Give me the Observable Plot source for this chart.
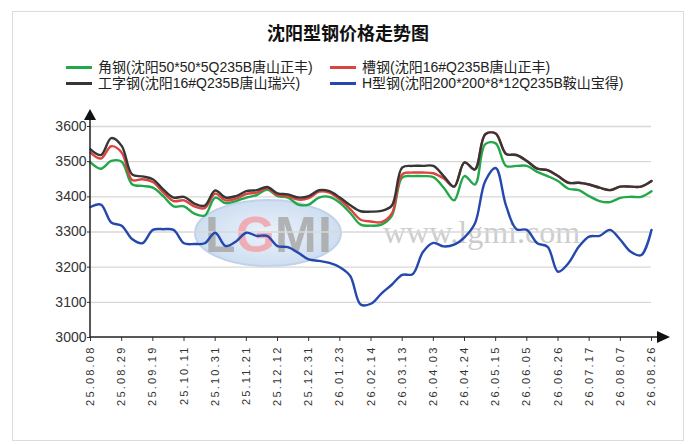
<!DOCTYPE html>
<html>
<head>
<meta charset="utf-8">
<script src="https://cdn.jsdelivr.net/npm/d3@7"></script>
<script src="https://cdn.jsdelivr.net/npm/@observablehq/plot@0.6"></script>
<style>
  body { margin: 0; background: #fff; font-family: "Liberation Sans", "Noto Sans CJK SC", sans-serif; }
  #wrap { position: relative; width: 692px; height: 445px; overflow: hidden; }
  #frame { position: absolute; left: 12px; top: 11px; width: 670px; height: 428px; border: 1px solid #dcdcdc; }
  #title { position: absolute; left: 12px; width: 672px; top: 19px; text-align: center; font-size: 18px;
           line-height: 26px; font-weight: bold; color: #111; font-family: "Noto Sans CJK SC", sans-serif; }
  .leg { position: absolute; font-size: 14px; line-height: 16px; color: #222; white-space: nowrap; }
  .leg i { display: inline-block; width: 26px; height: 2.5px; vertical-align: middle; margin: 0 6px 2px 0; }
  #mark { position: absolute; left: 0; top: 0; }
  #chart svg { position: absolute; left: 0; top: 100px; }
</style>
</head>
<body>
<div id="wrap">
  <div id="frame"></div>
  <svg id="mark" width="692" height="445"></svg>
  <div id="title">沈阳型钢价格走势图</div>
  <div id="legend"></div>
  <div id="chart"></div>
</div>
<script>
// weekly samples, label every third point
var tickLabels = ["25.08.08", "25.08.29", "25.09.19", "25.10.11", "25.10.31", "25.11.21", "25.12.12",
  "25.12.31", "26.01.23", "26.02.14", "26.03.13", "26.04.03", "26.04.24", "26.05.15", "26.06.05",
  "26.06.26", "26.07.17", "26.08.07", "26.08.26"];

var seriesNames = ["角钢(沈阳50*50*5Q235B唐山正丰)", "槽钢(沈阳16#Q235B唐山正丰)",
  "工字钢(沈阳16#Q235B唐山瑞兴)", "H型钢(沈阳200*200*8*12Q235B鞍山宝得)"];
var seriesColors = ["#22a84b", "#dc443e", "#363636", "#2548ac"];

var jiao = [3498, 3480, 3502, 3500, 3436, 3431, 3426, 3402, 3373, 3373, 3352, 3347, 3398, 3382,
  3388, 3398, 3405, 3421, 3402, 3398, 3378, 3378, 3398, 3400, 3383, 3354, 3321, 3318,
  3321, 3346, 3455, 3459, 3459, 3456, 3426, 3390, 3459, 3435, 3550, 3552, 3488,
  3488, 3488, 3471, 3459, 3445, 3423, 3419, 3402, 3388, 3385, 3397, 3400, 3400, 3416];
var cao = [3526, 3509, 3544, 3526, 3448, 3450, 3442, 3413, 3388, 3390, 3373, 3368, 3409, 3390,
  3395, 3408, 3412, 3424, 3405, 3402, 3392, 3396, 3415, 3412, 3392, 3365, 3335, 3330,
  3328, 3352, 3464, 3469, 3469, 3467, 3452, 3429, 3498, 3478, 3578, 3580, 3522,
  3519, 3502, 3480, 3476, 3459, 3440, 3440, 3435, 3426, 3419, 3429, 3429, 3429, 3445];
var gongzi = [3535, 3519, 3567, 3545, 3464, 3458, 3450, 3421, 3398, 3400, 3381, 3375, 3418, 3398,
  3402, 3416, 3419, 3428, 3410, 3407, 3398, 3402, 3419, 3416, 3398, 3376, 3359, 3358,
  3360, 3375, 3483, 3488, 3488, 3488, 3459, 3429, 3498, 3478, 3578, 3580, 3522,
  3519, 3502, 3480, 3476, 3459, 3440, 3440, 3435, 3426, 3419, 3429, 3429, 3429, 3445];
var hxing = [3371, 3378, 3327, 3318, 3280, 3268, 3306, 3308, 3306, 3268, 3266, 3268, 3298, 3260,
  3273, 3298, 3289, 3289, 3260, 3257, 3241, 3222, 3218, 3212, 3200, 3175, 3094, 3096,
  3125, 3150, 3178, 3180, 3243, 3269, 3259, 3264, 3285, 3324, 3445, 3482, 3375,
  3308, 3306, 3268, 3258, 3187, 3211, 3258, 3287, 3289, 3306, 3278, 3244, 3234, 3306];

var yTicks = [3000, 3100, 3200, 3300, 3400, 3500, 3600];
var allSeries = [jiao, cao, gongzi, hxing];
var xTicks = tickLabels.map((d, i) => i * 3);

// legend: two columns, two rows
seriesNames.forEach((name, k) => {
  var div = document.createElement("div");
  div.className = "leg";
  div.style.left = (k % 2 ? 330 : 66) + "px";
  div.style.top = (k < 2 ? 59 : 75) + "px";
  div.innerHTML = '<i style="background:' + seriesColors[k] + '"></i>' + name;
  document.getElementById("legend").appendChild(div);
});

// watermark (logo + site)
document.getElementById("mark").innerHTML = `
  <defs><radialGradient id="g" cx="50%" cy="50%" r="55%">
    <stop offset="0%" stop-color="#e8f0fa"/><stop offset="100%" stop-color="#c2d7ee"/></radialGradient></defs>
  <ellipse cx="268" cy="233" rx="73" ry="33" fill="url(#g)" stroke="#b5cbe6" stroke-width="2" opacity="0.85"/>
  <g font-size="50" font-weight="bold" font-family="Liberation Sans" opacity="0.85">
    <text x="205" y="252" fill="#a9a9a9">L</text>
    <text x="236" y="252" fill="#f2a3aa">G</text>
    <text x="275" y="252" fill="#a9a9a9">M</text>
    <text x="318" y="252" fill="#a9a9a9">I</text>
  </g>
  <text x="383" y="243" font-size="32" font-family="Liberation Serif" fill="#cdcdcd">www.lgmi.com</text>`;

var rows = allSeries.map((vals, k) => vals.map((v, i) => ({i: i, value: v, k: k})));

var plot = Plot.plot({
  width: 692,
  height: 345,
  marginTop: 26,
  marginBottom: 108,
  marginLeft: 90,
  marginRight: 41,
  style: {background: "transparent", color: "#333", fontFamily: "Liberation Sans, sans-serif"},
  x: {domain: [0, 54], axis: null},
  y: {domain: [3000, 3600], axis: null},
  marks: [
    Plot.gridY(yTicks.slice(1), {stroke: "#d8d8d8", strokeOpacity: 1, strokeWidth: 1.3}),
    Plot.axisY(yTicks, {tickSize: 3, tickPadding: 1, fontSize: 14, label: null, tickFormat: (d) => String(d)}),
    Plot.axisX(xTicks, {tickSize: 4, tickPadding: 4, tickRotate: -90, fontSize: 11, label: null,
      tickFormat: (i) => tickLabels[i / 3]}),
    ...rows.map((r, k) => Plot.line(r, {
      x: "i", y: "value", stroke: seriesColors[k], strokeWidth: 2.4, curve: "catmull-rom"
    }))
  ]
});

var svg = d3.select(plot);
svg.selectAll("g[aria-label='x-axis tick label'] text").attr("letter-spacing", "2.2px");
// axis lines with arrowheads
var sx = plot.scale("x"), sy = plot.scale("y");
var x0 = sx.apply(0), y0 = sy.apply(3000), yTop = sy.apply(3600);
svg.append("path").attr("d", `M${x0},${y0}H${x0 + 567}M${x0},${y0}V${yTop - 6}`)
  .attr("stroke", "#222").attr("stroke-width", 1.5).attr("fill", "none");
svg.append("path").attr("d", `M${x0 + 567},${y0 - 6}L${x0 + 580},${y0}L${x0 + 567},${y0 + 6}Z`).attr("fill", "#111");
svg.append("path").attr("d", `M${x0 - 6},${yTop - 6}L${x0},${yTop - 17}L${x0 + 6},${yTop - 6}Z`).attr("fill", "#111");

document.getElementById("chart").appendChild(plot);
</script>
</body>
</html>
